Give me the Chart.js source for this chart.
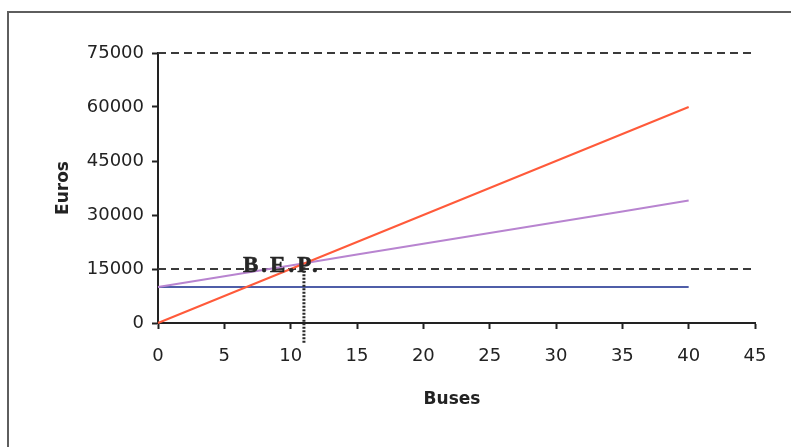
<!DOCTYPE html>
<html>
<head>
<meta charset="utf-8">
<script src="https://cdn.jsdelivr.net/npm/chart.js@4/dist/chart.umd.min.js"></script>
<style>
  html, body { margin: 0; padding: 0; background: #fff; }
  #wrap { width: 791px; height: 447px; position: relative; }
</style>
</head>
<body>
<div id="wrap"><canvas id="c"></canvas></div>
<script>
// Number of buses
const buses = [0, 5, 10, 15, 20, 25, 30, 35, 40];
// Euros
const revenue    = [0, 7500, 15000, 22500, 30000, 37500, 45000, 52500, 60000];
const totalCost  = [10000, 13000, 16000, 19000, 22000, 25000, 28000, 31000, 34000];
const fixedCost  = [10000, 10000, 10000, 10000, 10000, 10000, 10000, 10000, 10000];
// Reference levels drawn as dashed lines across the plot
const guideLevels = [15000, 75000];
// Break-even point (buses) and the extent of its marker line (euros)
const bepBuses = 11;
const bepLineSpan = [15500, -5500];

const xTicks = { min: 0, max: 45, step: 5 };
const yTicks = { min: 0, max: 75000, step: 15000 };

const pts = (xs, ys) => xs.map((x, i) => ({ x, y: ys[i] }));

const datasets = [
  { label: 'Revenue', data: pts(buses, revenue), borderColor: '#ff5a3a', borderWidth: 2, order: 1 },
  { label: 'Total cost', data: pts(buses, totalCost), borderColor: '#b884d0', borderWidth: 2, order: 2 },
  { label: 'Fixed cost', data: pts(buses, fixedCost), borderColor: '#4f5ea8', borderWidth: 2.2, order: 3 },
  ...guideLevels.map(v => ({
    label: 'guide ' + v,
    data: [{ x: xTicks.min, y: v }, { x: xTicks.max, y: v }],
    borderColor: '#3a3a3a', borderWidth: 2, borderDash: [8, 5], order: 4
  })),
  { label: 'B.E.P.', data: bepLineSpan.map(y => ({ x: bepBuses, y })),
    borderColor: '#2a2a2a', borderWidth: 3, borderDash: [2, 1.5], order: 0 }
];
datasets.forEach(d => { d.pointRadius = 0; d.tension = 0; d.fill = false; d.clip = false; });

// Outer frame, axis titles and the break-even label
const decorations = {
  id: 'decorations',
  beforeDraw(chart) {
    const ctx = chart.ctx;
    ctx.save();
    ctx.fillStyle = '#fff';
    ctx.fillRect(0, 0, chart.width, chart.height);
    ctx.strokeStyle = '#5e5e5e';
    ctx.lineWidth = 2;
    ctx.strokeRect(8, 12, chart.width + 20, chart.height + 20);
    ctx.restore();
  },
  afterDatasetsDraw(chart) {
    const ctx = chart.ctx;
    const xs = chart.scales.x, ys = chart.scales.y;
    ctx.save();
    ctx.fillStyle = '#222';
    ctx.textAlign = 'center';
    ctx.textBaseline = 'middle';
    ctx.font = 'bold 17px "DejaVu Sans"';
    ctx.fillText('Buses', 452, 400);
    ctx.save();
    ctx.translate(64, 188);
    ctx.rotate(-Math.PI / 2);
    ctx.fillText('Euros', 0, 0);
    ctx.restore();

    ctx.font = 'bold 23px "Liberation Serif"';
    ctx.letterSpacing = '3px';
    ctx.textBaseline = 'alphabetic';
    ctx.fillStyle = '#262626';
    ctx.strokeStyle = '#262626';
    ctx.lineWidth = 0.6;
    const tx = xs.getPixelForValue(bepBuses) - 22;
    const ty = ys.getPixelForValue(15000) + 3;
    ctx.fillText('B.E.P.', tx, ty);
    ctx.strokeText('B.E.P.', tx, ty);
    ctx.restore();
  }
};

const axisCommon = {
  type: 'linear',
  border: { display: true, color: '#222', width: 2 },
  grid: { drawOnChartArea: false, drawTicks: true, tickLength: 6, tickColor: '#222', tickWidth: 2 },
};

new Chart(document.getElementById('c'), {
  type: 'line',
  data: { datasets },
  plugins: [decorations],
  options: {
    responsive: true,
    maintainAspectRatio: false,
    animation: false,
    layout: { padding: { left: 0, top: 53, right: 36, bottom: 0 } },
    plugins: { legend: { display: false }, tooltip: { enabled: false } },
    scales: {
      x: {
        ...axisCommon,
        min: xTicks.min, max: xTicks.max,
        ticks: { stepSize: xTicks.step, color: '#222', padding: 17, maxRotation: 0,
                 callback: v => String(v),
                 font: { family: '"DejaVu Sans"', size: 18 } },
        afterFit(s) { s.height = 124; }
      },
      y: {
        ...axisCommon,
        min: yTicks.min, max: yTicks.max,
        ticks: { stepSize: yTicks.step, color: '#222', padding: 8,
                 callback: v => String(v),
                 font: { family: '"DejaVu Sans"', size: 18 } },
        afterFit(s) { s.width = 158; }
      }
    }
  }
});
</script>
</body>
</html>
